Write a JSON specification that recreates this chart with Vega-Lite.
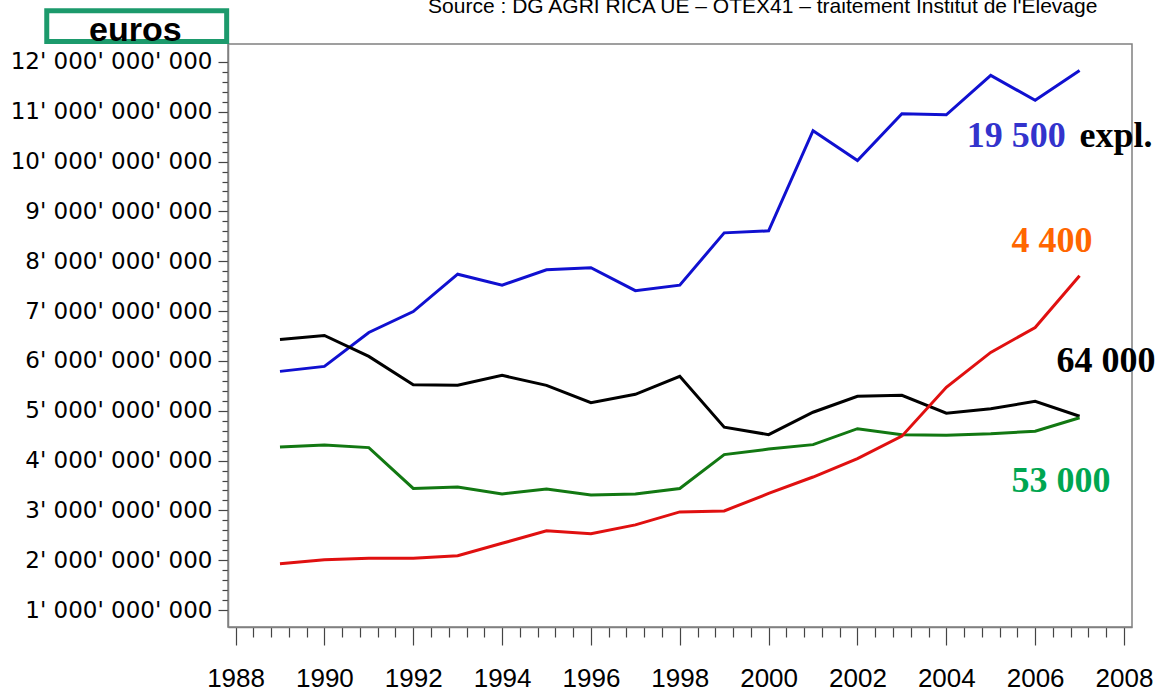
{
  "$schema": "https://vega.github.io/schema/vega-lite/v6.json",
  "autosize": {"type": "none"},
  "padding": {"left": 228, "top": 44, "right": 28, "bottom": 66},
  "width": 904,
  "height": 583,
  "background": "white",
  "config": {"view": {"stroke": "#808080", "strokeWidth": 1.5}},
  "datasets": {
    "one": [{}],
    "series": [
      {"year": 1989, "series": "19 500", "value": 5790000000},
      {"year": 1990, "series": "19 500", "value": 5890000000},
      {"year": 1991, "series": "19 500", "value": 6570000000},
      {"year": 1992, "series": "19 500", "value": 6990000000},
      {"year": 1993, "series": "19 500", "value": 7740000000},
      {"year": 1994, "series": "19 500", "value": 7520000000},
      {"year": 1995, "series": "19 500", "value": 7830000000},
      {"year": 1996, "series": "19 500", "value": 7870000000},
      {"year": 1997, "series": "19 500", "value": 7410000000},
      {"year": 1998, "series": "19 500", "value": 7520000000},
      {"year": 1999, "series": "19 500", "value": 8570000000},
      {"year": 2000, "series": "19 500", "value": 8610000000},
      {"year": 2001, "series": "19 500", "value": 10620000000},
      {"year": 2002, "series": "19 500", "value": 10020000000},
      {"year": 2003, "series": "19 500", "value": 10960000000},
      {"year": 2004, "series": "19 500", "value": 10940000000},
      {"year": 2005, "series": "19 500", "value": 11730000000},
      {"year": 2006, "series": "19 500", "value": 11230000000},
      {"year": 2007, "series": "19 500", "value": 11830000000},
      {"year": 1989, "series": "64 000", "value": 6430000000},
      {"year": 1990, "series": "64 000", "value": 6510000000},
      {"year": 1991, "series": "64 000", "value": 6090000000},
      {"year": 1992, "series": "64 000", "value": 5520000000},
      {"year": 1993, "series": "64 000", "value": 5510000000},
      {"year": 1994, "series": "64 000", "value": 5710000000},
      {"year": 1995, "series": "64 000", "value": 5510000000},
      {"year": 1996, "series": "64 000", "value": 5160000000},
      {"year": 1997, "series": "64 000", "value": 5330000000},
      {"year": 1998, "series": "64 000", "value": 5690000000},
      {"year": 1999, "series": "64 000", "value": 4670000000},
      {"year": 2000, "series": "64 000", "value": 4520000000},
      {"year": 2001, "series": "64 000", "value": 4970000000},
      {"year": 2002, "series": "64 000", "value": 5290000000},
      {"year": 2003, "series": "64 000", "value": 5310000000},
      {"year": 2004, "series": "64 000", "value": 4950000000},
      {"year": 2005, "series": "64 000", "value": 5040000000},
      {"year": 2006, "series": "64 000", "value": 5190000000},
      {"year": 2007, "series": "64 000", "value": 4890000000},
      {"year": 1989, "series": "53 000", "value": 4270000000},
      {"year": 1990, "series": "53 000", "value": 4310000000},
      {"year": 1991, "series": "53 000", "value": 4260000000},
      {"year": 1992, "series": "53 000", "value": 3440000000},
      {"year": 1993, "series": "53 000", "value": 3470000000},
      {"year": 1994, "series": "53 000", "value": 3330000000},
      {"year": 1995, "series": "53 000", "value": 3430000000},
      {"year": 1996, "series": "53 000", "value": 3310000000},
      {"year": 1997, "series": "53 000", "value": 3330000000},
      {"year": 1998, "series": "53 000", "value": 3440000000},
      {"year": 1999, "series": "53 000", "value": 4120000000},
      {"year": 2000, "series": "53 000", "value": 4230000000},
      {"year": 2001, "series": "53 000", "value": 4320000000},
      {"year": 2002, "series": "53 000", "value": 4640000000},
      {"year": 2003, "series": "53 000", "value": 4520000000},
      {"year": 2004, "series": "53 000", "value": 4510000000},
      {"year": 2005, "series": "53 000", "value": 4540000000},
      {"year": 2006, "series": "53 000", "value": 4590000000},
      {"year": 2007, "series": "53 000", "value": 4860000000},
      {"year": 1989, "series": "4 400", "value": 1930000000},
      {"year": 1990, "series": "4 400", "value": 2010000000},
      {"year": 1991, "series": "4 400", "value": 2040000000},
      {"year": 1992, "series": "4 400", "value": 2040000000},
      {"year": 1993, "series": "4 400", "value": 2090000000},
      {"year": 1994, "series": "4 400", "value": 2340000000},
      {"year": 1995, "series": "4 400", "value": 2590000000},
      {"year": 1996, "series": "4 400", "value": 2530000000},
      {"year": 1997, "series": "4 400", "value": 2710000000},
      {"year": 1998, "series": "4 400", "value": 2970000000},
      {"year": 1999, "series": "4 400", "value": 2990000000},
      {"year": 2000, "series": "4 400", "value": 3340000000},
      {"year": 2001, "series": "4 400", "value": 3670000000},
      {"year": 2002, "series": "4 400", "value": 4040000000},
      {"year": 2003, "series": "4 400", "value": 4490000000},
      {"year": 2004, "series": "4 400", "value": 5470000000},
      {"year": 2005, "series": "4 400", "value": 6170000000},
      {"year": 2006, "series": "4 400", "value": 6670000000},
      {"year": 2007, "series": "4 400", "value": 7710000000}
    ]
  },
  "layer": [
    {
      "data": {"name": "series"},
      "mark": {"type": "line", "strokeWidth": 3, "clip": false},
      "encoding": {
        "x": {
          "field": "year",
          "type": "quantitative",
          "scale": {"domain": [1987.83, 2008.18], "nice": false, "zero": false},
          "axis": {
            "title": null,
            "grid": false,
            "tickCount": 200,
            "values": [1988,1988.4,1988.8,1989.2,1989.6,1990,1990.4,1990.8,1991.2,1991.6,1992,1992.4,1992.8,1993.2,1993.6,1994,1994.4,1994.8,1995.2,1995.6,1996,1996.4,1996.8,1997.2,1997.6,1998,1998.4,1998.8,1999.2,1999.6,2000,2000.4,2000.8,2001.2,2001.6,2002,2002.4,2002.8,2003.2,2003.6,2004,2004.4,2004.8,2005.2,2005.6,2006,2006.4,2006.8,2007.2,2007.6,2008],
            "labelExpr": "datum.value % 2 === 0 ? toString(datum.value) : ''",
            "labelOverlap": false,
            "labelBound": false,
            "labelFlush": false,
            "labelLimit": 400,
            "labelFont": "Liberation Sans",
            "labelFontSize": 26,
            "labelColor": "#000000",
            "labelPadding": 20,
            "tickSize": {"condition": {"test": "datum.value % 2 === 0", "value": 18}, "value": 10},
            "tickColor": "#444444",
            "tickWidth": 1.2,
            "domainColor": "#808080",
            "domainWidth": 1.5
          }
        },
        "y": {
          "field": "value",
          "type": "quantitative",
          "scale": {"domain": [660000000, 12360000000], "nice": false, "zero": false},
          "axis": {
            "title": null,
            "grid": false,
            "tickCount": 200,
            "values": [1000000000,1200000000,1400000000,1600000000,1800000000,2000000000,2200000000,2400000000,2600000000,2800000000,3000000000,3200000000,3400000000,3600000000,3800000000,4000000000,4200000000,4400000000,4600000000,4800000000,5000000000,5200000000,5400000000,5600000000,5800000000,6000000000,6200000000,6400000000,6600000000,6800000000,7000000000,7200000000,7400000000,7600000000,7800000000,8000000000,8200000000,8400000000,8600000000,8800000000,9000000000,9200000000,9400000000,9600000000,9800000000,10000000000,10200000000,10400000000,10600000000,10800000000,11000000000,11200000000,11400000000,11600000000,11800000000,12000000000],
            "labelExpr": "datum.value % 1000000000 === 0 ? format(datum.value / 1000000000, 'd') + \"' 000' 000' 000\" : ''",
            "labelOverlap": false,
            "labelBound": false,
            "labelFlush": false,
            "labelLimit": 400,
            "labelFont": "DejaVu Sans",
            "labelFontSize": 23,
            "labelColor": "#000000",
            "labelPadding": 6,
            "tickSize": {"condition": {"test": "datum.value % 1000000000 === 0", "value": 10}, "value": 6},
            "tickColor": "#444444",
            "tickWidth": 1.2,
            "domainColor": "#808080",
            "domainWidth": 1.5
          }
        },
        "color": {
          "field": "series",
          "type": "nominal",
          "scale": {"domain": ["64 000", "53 000", "4 400", "19 500"], "range": ["#000000", "#127812", "#e01010", "#1010d0"]},
          "legend": null
        }
      }
    },
    {
      "data": {"name": "one"},
      "mark": {"type": "rect", "filled": false, "color": "#1c9a6c", "strokeWidth": 5, "clip": false},
      "encoding": {
        "x": {"datum": 1983.75, "type": "quantitative"},
        "x2": {"datum": 1987.8},
        "y": {"datum": 13025000000, "type": "quantitative"},
        "y2": {"datum": 12409000000}
      }
    },
    {
      "data": {"name": "one"},
      "mark": {"type": "text", "text": "euros", "align": "center", "baseline": "alphabetic", "font": "Liberation Sans", "fontWeight": "bold", "fontSize": 34, "color": "#000000"},
      "encoding": {
        "x": {"datum": 1985.745, "type": "quantitative"},
        "y": {"datum": 12419000000, "type": "quantitative"}
      }
    },
    {
      "data": {"name": "one"},
      "mark": {"type": "text", "text": "Source : DG AGRI RICA UE – OTEX41  – traitement Institut de l'Élevage", "align": "center", "baseline": "alphabetic", "font": "Liberation Sans", "fontSize": 21, "color": "#000000"},
      "encoding": {
        "x": {"datum": 1999.868, "type": "quantitative"},
        "y": {"datum": 12981000000, "type": "quantitative"}
      }
    },
    {
      "data": {"name": "one"},
      "mark": {"type": "text", "text": "19 500", "align": "left", "baseline": "alphabetic", "font": "Liberation Serif", "fontWeight": "bold", "fontSize": 36, "color": "#3333cc"},
      "encoding": {
        "x": {"datum": 2004.46, "type": "quantitative"},
        "y": {"datum": 10298000000, "type": "quantitative"}
      }
    },
    {
      "data": {"name": "one"},
      "mark": {"type": "text", "text": "expl.", "align": "left", "baseline": "alphabetic", "font": "Liberation Serif", "fontWeight": "bold", "fontSize": 36, "color": "#000000"},
      "encoding": {
        "x": {"datum": 2007.0, "type": "quantitative"},
        "y": {"datum": 10298000000, "type": "quantitative"}
      }
    },
    {
      "data": {"name": "one"},
      "mark": {"type": "text", "text": "4 400", "align": "left", "baseline": "alphabetic", "font": "Liberation Serif", "fontWeight": "bold", "fontSize": 36, "color": "#ff6600"},
      "encoding": {
        "x": {"datum": 2005.47, "type": "quantitative"},
        "y": {"datum": 8191000000, "type": "quantitative"}
      }
    },
    {
      "data": {"name": "one"},
      "mark": {"type": "text", "text": "64 000", "align": "left", "baseline": "alphabetic", "font": "Liberation Serif", "fontWeight": "bold", "fontSize": 36, "color": "#000000"},
      "encoding": {
        "x": {"datum": 2006.48, "type": "quantitative"},
        "y": {"datum": 5783000000, "type": "quantitative"}
      }
    },
    {
      "data": {"name": "one"},
      "mark": {"type": "text", "text": "53 000", "align": "left", "baseline": "alphabetic", "font": "Liberation Serif", "fontWeight": "bold", "fontSize": 36, "color": "#00a651"},
      "encoding": {
        "x": {"datum": 2005.47, "type": "quantitative"},
        "y": {"datum": 3375000000, "type": "quantitative"}
      }
    }
  ]
}
